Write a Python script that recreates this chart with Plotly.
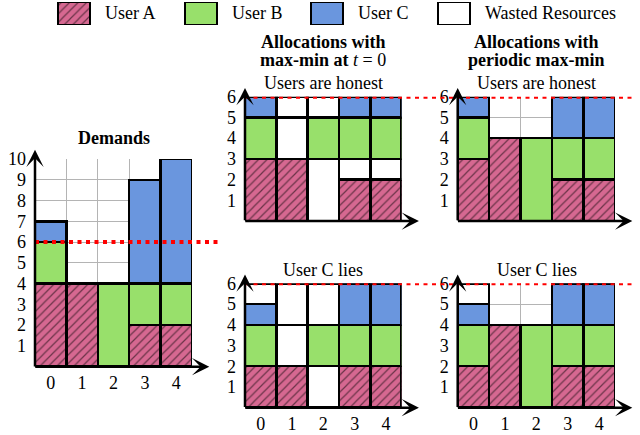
import plotly.graph_objects as go

# ---------------- data ----------------
days = [0, 1, 2, 3, 4]
day_labels = ["0", "1", "2", "3", "4"]
capacity = 6
legend_labels = ["User A", "User B", "User C", "Wasted Resources"]

demand_A = [4, 4, 0, 2, 2]
demand_B = [2, 0, 4, 2, 2]
demand_C = [1, 0, 0, 5, 6]

static_honest_A = [3, 3, 0, 2, 2]
static_honest_A_waste = [0, 0, 3, 1, 1]
static_honest_B = [2, 0, 2, 2, 2]
static_honest_B_waste = [0, 2, 0, 0, 0]
static_honest_C = [1, 0, 0, 1, 1]
static_honest_C_waste = [0, 1, 1, 0, 0]

static_lies_A = [2, 2, 0, 2, 2]
static_lies_A_waste = [0, 0, 2, 0, 0]
static_lies_B = [2, 0, 2, 2, 2]
static_lies_B_waste = [0, 2, 0, 0, 0]
static_lies_C = [1, 0, 0, 2, 2]
static_lies_C_waste = [1, 2, 2, 0, 0]

periodic_honest_A = [3, 4, 0, 2, 2]
periodic_honest_B = [2, 0, 4, 2, 2]
periodic_honest_C = [1, 0, 0, 2, 2]
periodic_honest_C_waste = [0, 0, 0, 0, 0]

periodic_lies_A = [2, 4, 0, 2, 2]
periodic_lies_B = [2, 0, 4, 2, 2]
periodic_lies_C = [1, 0, 0, 2, 2]
periodic_lies_C_waste = [1, 0, 0, 0, 0]

# ---------------- style ----------------
FONT = "Liberation Serif"
FILL = {"A": "#d66891", "B": "#98e06b", "C": "#6a96de", "W": "#ffffff"}
LINE_W = 2.5
GRID = "#b4b4b4"
W, H = 640, 435


def marker_for(kind, lw=LINE_W):
    m = dict(color=FILL[kind], line=dict(color="black", width=lw))
    if kind == "A":
        m["pattern"] = dict(shape="/", fgcolor="black", fillmode="overlay",
                            size=6, solidity=0.2)
    return m


def seg(n, vals, kind):
    return go.Bar(x=days, y=[v if v else None for v in vals], width=1,
                  marker=marker_for(kind), xaxis="x" + n, yaxis="y" + n,
                  showlegend=False, hoverinfo="skip")


fig = go.Figure()

panels = [
    ("", [(demand_A, "A"), (demand_B, "B"), (demand_C, "C")]),
    ("2", [(static_honest_A, "A"), (static_honest_A_waste, "W"),
           (static_honest_B, "B"), (static_honest_B_waste, "W"),
           (static_honest_C, "C"), (static_honest_C_waste, "W")]),
    ("3", [(periodic_honest_A, "A"), (periodic_honest_B, "B"),
           (periodic_honest_C, "C"), (periodic_honest_C_waste, "W")]),
    ("4", [(static_lies_A, "A"), (static_lies_A_waste, "W"),
           (static_lies_B, "B"), (static_lies_B_waste, "W"),
           (static_lies_C, "C"), (static_lies_C_waste, "W")]),
    ("5", [(periodic_lies_A, "A"), (periodic_lies_B, "B"),
           (periodic_lies_C, "C"), (periodic_lies_C_waste, "W")]),
]
for n, segs in panels:
    for vals, kind in segs:
        fig.add_trace(seg(n, vals, kind))

# legend swatches (own small axis)
for i, kind in enumerate(["A", "B", "C", "W"]):
    fig.add_trace(go.Bar(x=[i], y=[1], width=0.2526, marker=marker_for(kind, 2.2),
                         xaxis="x6", yaxis="y6", showlegend=False, hoverinfo="skip"))

tickfont = dict(family=FONT, size=18, color="black")


def px_x(a, b):
    return [a / W, b / W]


def px_y(bottom, top):
    return [(H - bottom) / H, (H - top) / H]


def xaxis(dom, anchor, labels):
    return dict(domain=dom, anchor=anchor, range=[-0.5, 4.5], tickvals=days,
                ticktext=day_labels, showticklabels=labels, showgrid=False,
                zeroline=False, showline=False, ticks="", tickfont=tickfont,
                ticklabelstandoff=3, fixedrange=True, automargin=False,
                minor=dict(tickvals=[0.5, 1.5, 2.5, 3.5], showgrid=True,
                           gridcolor=GRID, gridwidth=1, ticks=""))


def yaxis(dom, anchor, top):
    return dict(domain=dom, anchor=anchor, range=[0, top],
                tickvals=list(range(1, top + 1)),
                ticktext=[str(v) for v in range(1, top + 1)],
                showgrid=False, zeroline=False, showline=False, ticks="",
                tickfont=tickfont, ticklabelstandoff=8, fixedrange=True,
                automargin=False,
                minor=dict(tickvals=list(range(1, top)), showgrid=True,
                           gridcolor=GRID, gridwidth=1, ticks=""))


mid_x = px_x(245, 401.7)
right_x = px_x(457.7, 615)
top_y = px_y(221, 96.7)
bot_y = px_y(407.7, 283.3)

layout = dict(
    width=W, height=H, autosize=False,
    margin=dict(l=0, r=0, t=0, b=0, pad=0, autoexpand=False),
    paper_bgcolor="white", plot_bgcolor="rgba(0,0,0,0)",
    barmode="stack", bargap=0, showlegend=False,
    font=dict(family=FONT, size=18, color="black"),
    xaxis=xaxis(px_x(35, 192), "y", True),
    yaxis=yaxis(px_y(366.7, 159), "x", 10),
    xaxis2=xaxis(mid_x, "y2", False), yaxis2=yaxis(top_y, "x2", 6),
    xaxis3=xaxis(right_x, "y3", False), yaxis3=yaxis(top_y, "x3", 6),
    xaxis4=xaxis(mid_x, "y4", True), yaxis4=yaxis(bot_y, "x4", 6),
    xaxis5=xaxis(right_x, "y5", True), yaxis5=yaxis(bot_y, "x5", 6),
    xaxis6=dict(domain=px_x(10.65, 517.35), anchor="y6", range=[-0.5, 3.5],
                visible=False, fixedrange=True, automargin=False),
    yaxis6=dict(domain=px_y(25, 2), anchor="x6", range=[0, 1],
                visible=False, fixedrange=True, automargin=False),
)
fig.update_layout(**layout)

ann = []


def arrow(n, x, y, ax, ay):
    xr, yr = "x" + n + " domain", "y" + n + " domain"
    return dict(xref=xr, yref=yr, axref=xr, ayref=yr, x=x, y=y, ax=ax, ay=ay,
                text="", showarrow=True, arrowhead=3, arrowsize=1.15,
                arrowwidth=2.5, arrowcolor="black", standoff=0, startstandoff=0)


# axis lines with arrow tips, in axis-domain fractions
for n, ytip, xtip in [("", 1.045, 1.11), ("2", 1.07, 1.11), ("3", 1.07, 1.11),
                      ("4", 1.07, 1.11), ("5", 1.07, 1.11)]:
    ann.append(arrow(n, 0, ytip, 0, -0.006))
    ann.append(arrow(n, xtip, 0, -0.008, 0))


def text(x, y, s, size=18):
    return dict(xref="paper", yref="paper", x=x / W, y=(H - y) / H, text=s,
                showarrow=False, xanchor="center", yanchor="middle",
                font=dict(family=FONT, size=size, color="black"))


ann += [
    text(113.5, 138, "<b>Demands</b>"),
    text(323, 41.5, "<b>Allocations with</b>"),
    text(323, 60, "<b>max-min at </b><i>t</i> = 0"),
    text(536.7, 41.5, "<b>Allocations with</b>"),
    text(536.7, 60, "<b>periodic max-min</b>"),
    text(323, 82.5, "Users are honest"),
    text(536.7, 82.5, "Users are honest"),
    text(323, 270, "User C lies"),
    text(536.7, 270, "User C lies"),
]

for i, lab in enumerate(legend_labels):
    ann.append(dict(xref="x6", yref="y6", x=i + 0.229, y=0.5, text=lab,
                    showarrow=False, xanchor="left", yanchor="middle",
                    font=dict(family=FONT, size=18, color="black")))

fig.update_layout(annotations=ann)

red = dict(color="red", width=4, dash="4px,4.5px")
fig.add_shape(type="line", xref="paper", yref="y", x0=35 / W, x1=222 / W,
              y0=capacity, y1=capacity, line=red, layer="above")
fig.add_shape(type="line", xref="paper", yref="y2", x0=245 / W, x1=636 / W,
              y0=capacity, y1=capacity, line=red, layer="above")
fig.add_shape(type="line", xref="paper", yref="y4", x0=245 / W, x1=636 / W,
              y0=capacity, y1=capacity, line=red, layer="above")

fig.write_html(
    "out.html",
    config={"displayModeBar": False, "staticPlot": True},
    post_script=(
        "document.documentElement.style.margin='0px';"
        "document.documentElement.style.overflow='hidden';"
        "document.body.style.margin='0px';"
        "document.body.style.overflow='hidden';"
        "var gd=document.getElementById('{plot_id}');"
        "gd.style.position='fixed';gd.style.top='0px';gd.style.left='0px';"
    ),
)
